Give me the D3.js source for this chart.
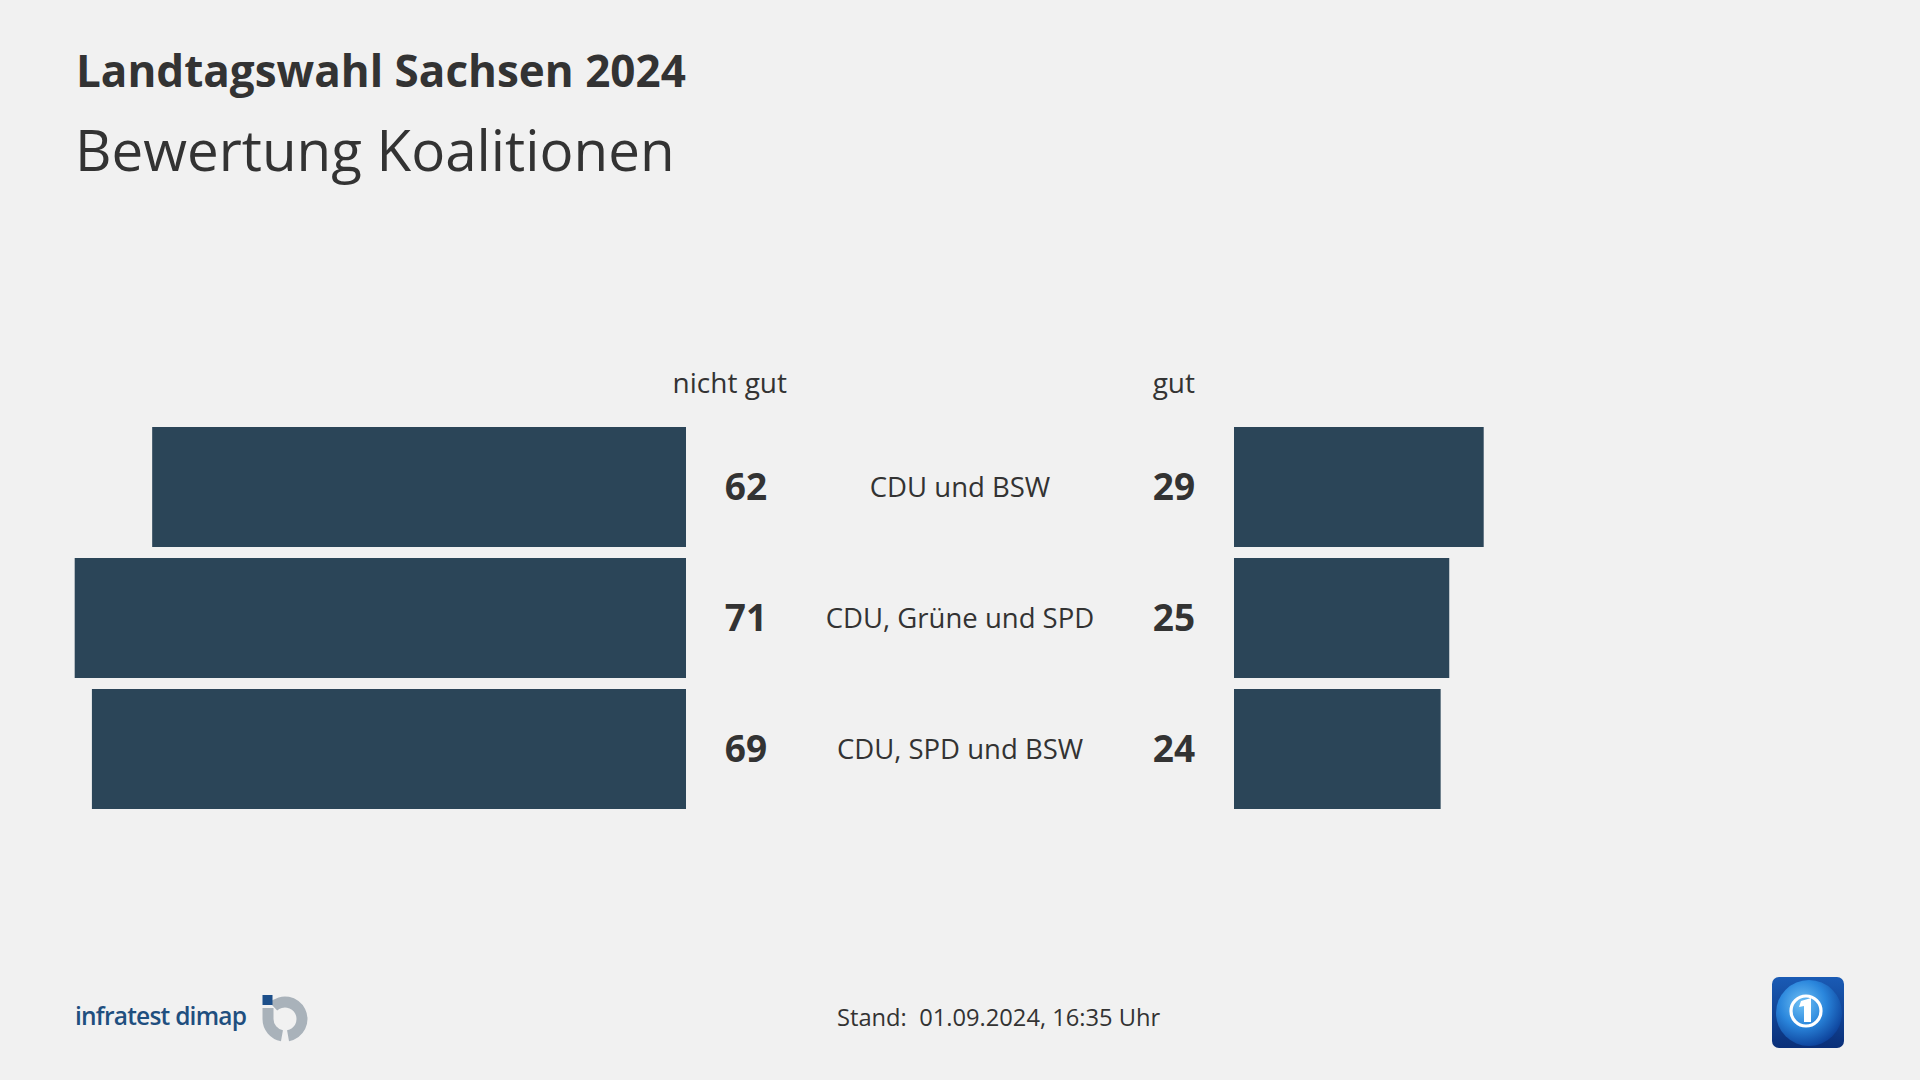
<!DOCTYPE html>
<html>
<head>
<meta charset="utf-8">
<script src="https://cdn.jsdelivr.net/npm/d3@7"></script>
<style>
  html, body { margin: 0; padding: 0; background: #f1f1f1; }
  svg { display: block; font-family: "Open Sans", "Noto Sans", sans-serif; }
</style>
</head>
<body>
<svg id="chart" width="1920" height="1080"></svg>
<script>
// ---- data ----
const title = "Landtagswahl Sachsen 2024";
const subtitle = "Bewertung Koalitionen";
const categories = ["CDU und BSW", "CDU, Grüne und SPD", "CDU, SPD und BSW"];
const nichtGut = [62, 71, 69];
const gut = [29, 25, 24];
const headers = ["nicht gut", "gut"];
const footerText = "Stand:  01.09.2024, 16:35 Uhr";
const sourceText = "infratest dimap";

// ---- layout ----
const W = 1920, H = 1080;
const center = 960;
const leftBase = 686, rightBase = 1234;
const unit = 8.61;
const barColor = "#2b4558";
const textColor = "#333333";

const svg = d3.select("#chart");
svg.append("rect").attr("width", W).attr("height", H).attr("fill", "#f1f1f1");

// titles
svg.append("text").attr("x", 76).attr("y", 87)
  .attr("font-size", 44).attr("font-weight", 700).attr("fill", textColor).text(title);
svg.append("text").attr("x", 75).attr("y", 171)
  .attr("font-size", 56.5).attr("font-weight", 400).attr("fill", textColor).text(subtitle);

// scales
const xLeft = d3.scaleLinear().domain([0, 100]).range([leftBase, leftBase - 100 * unit]);
const xRight = d3.scaleLinear().domain([0, 100]).range([rightBase, rightBase + 100 * unit]);
const y = d3.scaleBand().domain(categories).range([427, 809]).paddingInner(11 / 131).paddingOuter(0);

const rows = categories.map((c, i) => ({ c, ng: nichtGut[i], g: gut[i] }));

// headers
svg.append("text").attr("x", 787).attr("y", 393).attr("text-anchor", "end")
  .attr("font-size", 28).attr("fill", textColor).text(headers[0]);
svg.append("text").attr("x", 1195).attr("y", 393).attr("text-anchor", "end")
  .attr("font-size", 28).attr("fill", textColor).text(headers[1]);

// bars left
svg.append("g").selectAll("rect").data(rows).join("rect")
  .attr("x", d => xLeft(d.ng)).attr("y", d => y(d.c))
  .attr("width", d => xLeft(0) - xLeft(d.ng)).attr("height", y.bandwidth())
  .attr("fill", barColor);
// bars right
svg.append("g").selectAll("rect").data(rows).join("rect")
  .attr("x", xRight(0)).attr("y", d => y(d.c))
  .attr("width", d => xRight(d.g) - xRight(0)).attr("height", y.bandwidth())
  .attr("fill", barColor);

// values
svg.append("g").selectAll("text").data(rows).join("text")
  .attr("x", leftBase + 60).attr("y", d => y(d.c) + y.bandwidth() / 2)
  .attr("dy", "0.36em").attr("text-anchor", "middle")
  .attr("font-size", 37).attr("font-weight", 700).attr("fill", textColor)
  .text(d => d.ng);
svg.append("g").selectAll("text").data(rows).join("text")
  .attr("x", rightBase - 60).attr("y", d => y(d.c) + y.bandwidth() / 2)
  .attr("dy", "0.36em").attr("text-anchor", "middle")
  .attr("font-size", 37).attr("font-weight", 700).attr("fill", textColor)
  .text(d => d.g);

// category labels
svg.append("g").selectAll("text").data(rows).join("text")
  .attr("x", center).attr("y", d => y(d.c) + y.bandwidth() / 2)
  .attr("dy", "0.36em").attr("text-anchor", "middle")
  .attr("font-size", 27.5).attr("fill", textColor)
  .text(d => d.c);

// footer
svg.append("text").attr("x", 837).attr("y", 1026)
  .attr("font-size", 23.7).attr("fill", textColor)
  .style("white-space", "pre").text(footerText);

// infratest dimap logo
svg.append("text").attr("x", 75).attr("y", 1025)
  .attr("font-size", 24.5).attr("font-weight", 600).attr("fill", "#1f4f7f")
  .attr("textLength", 172).attr("lengthAdjust", "spacing").text(sourceText);
const lg = svg.append("g").attr("transform", "translate(285,1019)");
const arcG = d3.arc().innerRadius(11.5).outerRadius(22.5);
lg.append("path").attr("d", arcG({ startAngle: -0.75, endAngle: Math.PI - 0.18 })).attr("fill", "#a9b2ba");
lg.append("path").attr("d", arcG({ startAngle: Math.PI + 0.18, endAngle: Math.PI * 1.5 })).attr("fill", "#a9b2ba");
lg.append("rect").attr("x", -22.5).attr("y", -11).attr("width", 11).attr("height", 11).attr("fill", "#a9b2ba");
lg.append("rect").attr("x", -22.5).attr("y", -24).attr("width", 10).attr("height", 10).attr("fill", "#1d4f8a");

// ARD tagesschau logo
const defs = svg.append("defs");
const lgd = defs.append("linearGradient").attr("id", "ardbg").attr("x1", 0).attr("y1", 0).attr("x2", 0).attr("y2", 1);
lgd.append("stop").attr("offset", 0).attr("stop-color", "#1a5bb5");
lgd.append("stop").attr("offset", 1).attr("stop-color", "#0a2f78");
const rg = defs.append("radialGradient").attr("id", "globe").attr("cx", 0.4).attr("cy", 0.35).attr("r", 0.7);
rg.append("stop").attr("offset", 0).attr("stop-color", "#6fc1f5");
rg.append("stop").attr("offset", 0.5).attr("stop-color", "#2a86dc");
rg.append("stop").attr("offset", 1).attr("stop-color", "#0b3d96");
const clip = defs.append("clipPath").attr("id", "ardclip");
clip.append("rect").attr("x", 1772).attr("y", 977).attr("width", 72).attr("height", 71).attr("rx", 7);
const ard = svg.append("g").attr("clip-path", "url(#ardclip)");
ard.append("rect").attr("x", 1772).attr("y", 977).attr("width", 72).attr("height", 71).attr("fill", "url(#ardbg)");
ard.append("circle").attr("cx", 1809).attr("cy", 1013).attr("r", 33).attr("fill", "url(#globe)");
ard.append("circle").attr("cx", 1806).attr("cy", 1011).attr("r", 15).attr("fill", "none")
  .attr("stroke", "#ffffff").attr("stroke-width", 3.2);
ard.append("path").attr("d", "M1801,1001 L1811,998 L1811,1022 L1804,1022 L1804,1006 L1799,1007 Z").attr("fill", "#ffffff");
</script>
</body>
</html>
